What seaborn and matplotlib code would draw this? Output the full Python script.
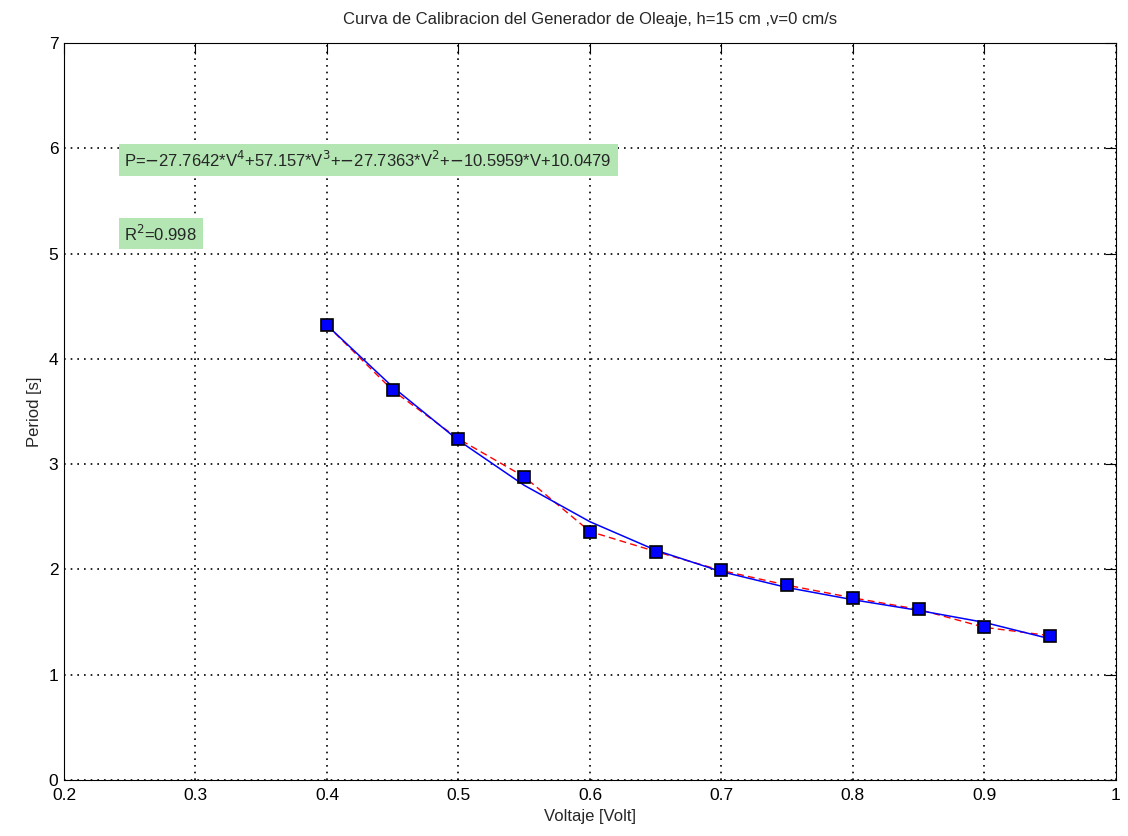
import numpy as np
import pandas as pd
import matplotlib
matplotlib.use('Agg')
import matplotlib.pyplot as plt
import seaborn as sns

volts = [0.40, 0.45, 0.50, 0.55, 0.60, 0.65, 0.70, 0.75, 0.80, 0.85, 0.90, 0.95]
period = [4.32, 3.70, 3.24, 2.88, 2.36, 2.17, 1.99, 1.85, 1.73, 1.62, 1.45, 1.37]

# fit coefficients as printed on the chart (V^4 ... V^0)
coefs = [-27.7642, 57.157, -27.7363, -10.5959, 10.0479]
r2 = 0.998

df = pd.DataFrame({'Voltaje': volts, 'Periodo': period})
df['Ajuste'] = np.polyval(coefs, df['Voltaje'])

sns.set_style('white')
plt.rcParams['font.family'] = ['Liberation Sans', 'DejaVu Sans']

fig = plt.figure(figsize=(11.28, 8.36), dpi=100)
ax = fig.add_axes([0.0567, 0.067, 0.9326, 0.8816])

sns.lineplot(data=df, x='Voltaje', y='Periodo', ax=ax, color='red',
             linestyle=(0, (5, 3)), linewidth=1.0)
sns.lineplot(data=df, x='Voltaje', y='Ajuste', ax=ax, color='blue', linewidth=1.1)
ax.plot(df['Voltaje'], df['Periodo'], linestyle='none', marker='s', markersize=8,
        markerfacecolor='blue', markeredgecolor='black', markeredgewidth=1.2)

ax.set_xlim(0.2, 1.0)
ax.set_ylim(0, 7)
ax.set_xticks(np.arange(0.2, 1.01, 0.1))
ax.set_yticks(range(0, 8))
ax.set_xticklabels(['0.2', '0.3', '0.4', '0.5', '0.6', '0.7', '0.8', '0.9', '1'])
ax.grid(True, color='black', linestyle=(0, (1, 3)), linewidth=1.2)
ax.tick_params(direction='in', length=8, width=0.8, top=True, right=True,
               labelsize=12.5, colors='black')
ax.tick_params(axis='x', pad=6)
ax.tick_params(axis='y', pad=4)
for s in ax.spines.values():
    s.set_color('black')
    s.set_linewidth(0.8)

ax.set_xlabel('Voltaje [Volt]', fontsize=12, labelpad=4)
ax.set_ylabel('Period [s]', fontsize=12, labelpad=5)
ax.set_title('Curva de Calibracion del Generador de Oleaje, h=15 cm ,v=0 cm/s',
             fontsize=12, pad=14)

eq = ('P=$-$27.7642*V$^4$+57.157*V$^3$+$-$27.7363*V$^2$+$-$10.5959*V+10.0479')
box = dict(boxstyle='square,pad=0.35', facecolor='#b3e6b3', edgecolor='none')
ax.text(0.246, 5.89, eq, fontsize=12, va='center', ha='left', bbox=box)
ax.text(0.246, 5.19, 'R$^2$=%.3f' % r2, fontsize=12, va='center', ha='left', bbox=box)

fig.savefig('out.png', dpi=100)
